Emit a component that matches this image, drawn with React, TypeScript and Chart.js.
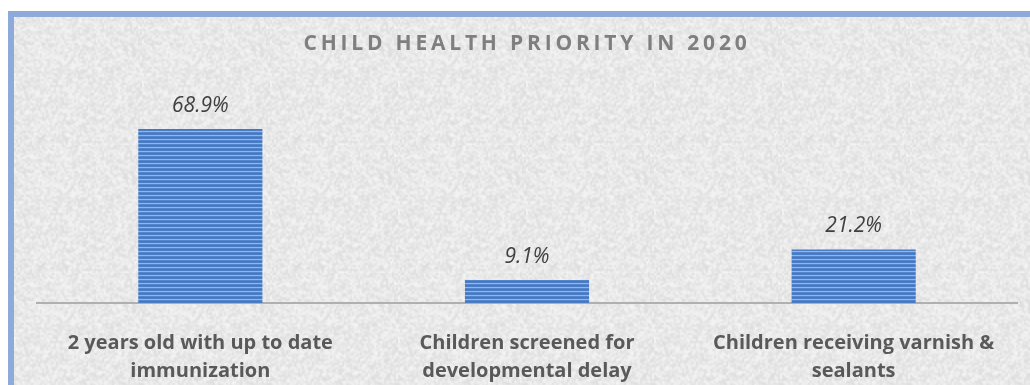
import React, { useEffect, useRef } from "react";
import { Chart, registerables } from "chart.js";

Chart.register(...registerables);

const titleText = "CHILD HEALTH PRIORITY IN 2020";
const categories: string[][] = [
  ["2 years old with up to date", "immunization"],
  ["Children screened for", "developmental delay"],
  ["Children receiving varnish &", "sealants"],
];
const values: number[] = [68.9, 9.1, 21.2];
const valueLabels: string[] = values.map((v) => v.toFixed(1) + "%");

function makeStripePattern(): CanvasPattern | string {
  const c = document.createElement("canvas");
  c.width = 4;
  c.height = 4;
  const g = c.getContext("2d");
  if (!g) return "#4f81bd";
  const rows = ["#4677be", "#4d7fc7", "#94b5e3", "#5585cc"];
  rows.forEach((col, i) => {
    g.fillStyle = col;
    g.fillRect(0, i, 4, 1);
  });
  const ctx = document.createElement("canvas").getContext("2d");
  const p = ctx ? ctx.createPattern(c, "repeat") : null;
  return p || "#4f81bd";
}

// decorative paper texture (deterministic hash, not data)
function makeTexture(): CanvasPattern | string {
  const n = 64;
  const small = document.createElement("canvas");
  small.width = n;
  small.height = n;
  const g = small.getContext("2d");
  if (!g) return "#e8e8e8";
  const img = g.createImageData(n, n);
  for (let y = 0; y < n; y++) {
    for (let x = 0; x < n; x++) {
      let h = Math.imul(x + 17, 374761393) ^ Math.imul(y + 31, 668265263);
      h = Math.imul(h ^ (h >>> 13), 1274126177);
      h = (h ^ (h >>> 16)) >>> 0;
      const t = (h % 1000) / 1000;
      const v = Math.round(233 + (t - 0.5) * 26);
      const k = (y * n + x) * 4;
      img.data[k] = v;
      img.data[k + 1] = v;
      img.data[k + 2] = v;
      img.data[k + 3] = 255;
    }
  }
  g.putImageData(img, 0, 0);
  const big = document.createElement("canvas");
  big.width = n * 2;
  big.height = n * 2;
  const bg = big.getContext("2d");
  if (!bg) return "#e8e8e8";
  bg.imageSmoothingEnabled = true;
  bg.drawImage(small, 0, 0, n * 2, n * 2);
  const p = bg.createPattern(big, "repeat");
  return p || "#e8e8e8";
}

const texturePlugin = {
  id: "texture",
  beforeDraw(chart: any) {
    const ctx = chart.ctx;
    ctx.save();
    ctx.fillStyle = makeTexture();
    ctx.fillRect(0, 0, chart.width, chart.height);
    ctx.restore();
  },
};

const titlePlugin = {
  id: "spacedTitle",
  afterDraw(chart: any) {
    const ctx = chart.ctx;
    ctx.save();
    ctx.font = "bold 21px 'Open Sans'";
    (ctx as any).letterSpacing = "3.8px";
    ctx.fillStyle = "#7f7f7f";
    ctx.textAlign = "center";
    ctx.textBaseline = "middle";
    const cx = (chart.chartArea.left + chart.chartArea.right) / 2;
    ctx.fillText(titleText, cx, 27);
    ctx.restore();
  },
};

const valueLabelPlugin = {
  id: "valueLabels",
  afterDatasetsDraw(chart: any) {
    const ctx = chart.ctx;
    const meta = chart.getDatasetMeta(0);
    ctx.save();
    ctx.font = "italic 21px 'Open Sans'";
    ctx.fillStyle = "#404040";
    ctx.textAlign = "center";
    ctx.textBaseline = "alphabetic";
    meta.data.forEach((bar: any, i: number) => {
      ctx.fillText(valueLabels[i], bar.x, bar.y - 17);
    });
    ctx.restore();
  },
};

export default function App() {
  const ref = useRef<HTMLCanvasElement | null>(null);

  useEffect(() => {
    if (!ref.current) return;
    const chart = new Chart(ref.current, {
      type: "bar",
      data: {
        labels: categories,
        datasets: [
          {
            data: values,
            backgroundColor: makeStripePattern() as any,
            borderWidth: 0,
            barPercentage: 0.38,
            categoryPercentage: 1,
          },
        ],
      },
      options: {
        animation: false,
        responsive: false,
        layout: { padding: { left: 23, right: 13, top: 84, bottom: 0 } },
        plugins: {
          legend: { display: false },
          title: { display: false },
          tooltip: { enabled: false },
        },
        scales: {
          y: { display: false, min: 0, max: 80 },
          x: {
            afterFit(scale: any) {
              scale.height = 82;
            },
            grid: {
              display: true,
              drawOnChartArea: false,
              drawTicks: false,
              color: "rgba(0,0,0,0)",
            },
            border: { display: true, color: "#b0b0b0", width: 2 },
            ticks: {
              color: "#595959",
              font: { family: "'Open Sans'", size: 20, weight: "bold", lineHeight: 1.4 },
              padding: 26,
              maxRotation: 0,
              autoSkip: false,
            },
          },
        },
      },
      plugins: [texturePlugin, titlePlugin, valueLabelPlugin],
    });
    return () => chart.destroy();
  }, []);

  return (
    <div
      style={{
        position: "fixed",
        left: 8,
        top: 11,
        width: 1022,
        height: 374,
        boxSizing: "border-box",
        borderLeft: "6px solid #8eaadb",
        borderTop: "6px solid #8eaadb",
        background: "#e8e8e8",
        overflow: "hidden",
      }}
    >
      <canvas ref={ref} width={1016} height={368} style={{ display: "block" }} />
    </div>
  );
}
